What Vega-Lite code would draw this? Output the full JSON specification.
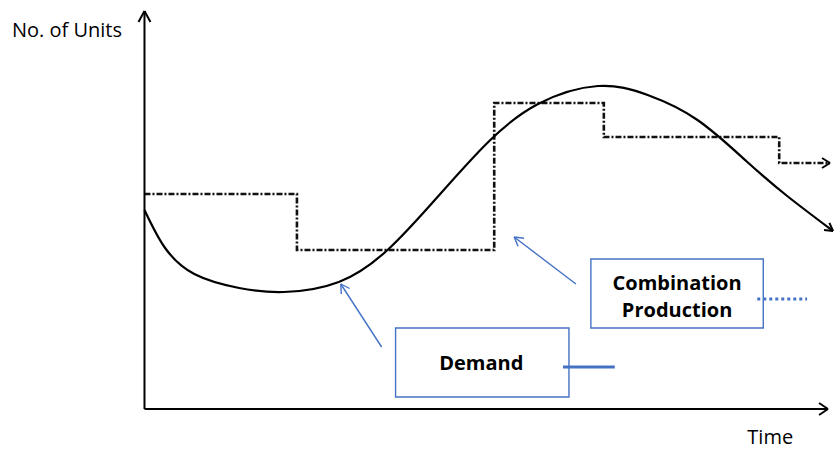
{
  "$schema": "https://vega.github.io/schema/vega-lite/v6.json",
  "width": 838,
  "height": 450,
  "autosize": {"type": "fit", "contains": "padding"},
  "padding": 0,
  "background": "white",
  "config": {"view": {"stroke": null}},
  "datasets": {
    "axes": [
      {"x": 0, "y": 0, "x2": 0, "y2": 398},
      {"x": 0, "y": 398, "x2": -6, "y2": 387},
      {"x": 0, "y": 398, "x2": 6, "y2": 387},
      {"x": 0, "y": 0, "x2": 686, "y2": 0},
      {"x": 686, "y": 0, "x2": 677, "y2": 6},
      {"x": 686, "y": 0, "x2": 677, "y2": -6},
      {"x": 691, "y": 178, "x2": 687.4, "y2": 186.2},
      {"x": 691, "y": 178, "x2": 682, "y2": 179},
      {"x": 688, "y": 246, "x2": 680, "y2": 251},
      {"x": 688, "y": 246, "x2": 680, "y2": 241}
    ],
    "pointers": [
      {"x": 238, "y": 62, "x2": 197, "y2": 125},
      {"x": 197, "y": 125, "x2": 197.5, "y2": 115},
      {"x": 197, "y": 125, "x2": 205.9, "y2": 120.5},
      {"x": 433, "y": 125, "x2": 371, "y2": 172},
      {"x": 371, "y": 172, "x2": 374.9, "y2": 162.8},
      {"x": 371, "y": 172, "x2": 380.9, "y2": 170.8}
    ],
    "demand": [
      {"t": 0, "u": 199}, {"t": 20, "u": 162}, {"t": 50, "u": 135}, {"t": 95, "u": 121},
      {"t": 140, "u": 117}, {"t": 195, "u": 127}, {"t": 245, "u": 160}, {"t": 295, "u": 213},
      {"t": 345, "u": 267}, {"t": 395, "u": 305}, {"t": 455, "u": 323}, {"t": 505, "u": 314},
      {"t": 555, "u": 289}, {"t": 605, "u": 247}, {"t": 645, "u": 213}, {"t": 691, "u": 178}
    ],
    "production": [
      {"i": 0, "t": 0, "u": 215}, {"i": 1, "t": 153, "u": 215}, {"i": 2, "t": 153, "u": 159},
      {"i": 3, "t": 351, "u": 159}, {"i": 4, "t": 351, "u": 306}, {"i": 5, "t": 461, "u": 306},
      {"i": 6, "t": 461, "u": 272}, {"i": 7, "t": 637, "u": 272}, {"i": 8, "t": 637, "u": 246},
      {"i": 9, "t": 688, "u": 246}
    ],
    "boxes": [
      {"x": 448, "x2": 621, "y": 150, "y2": 81},
      {"x": 252, "x2": 426, "y": 81, "y2": 12}
    ],
    "labels": [
      {"x": 534.5, "y": 125, "text": "Combination"},
      {"x": 534.5, "y": 98, "text": "Production"},
      {"x": 338, "y": 45, "text": "Demand"}
    ],
    "axisTitles": [
      {"x": -133, "y": 378, "text": "No. of Units"},
      {"x": 605, "y": -29, "text": "Time"}
    ]
  },
  "encoding": {},
  "layer": [
    {
      "data": {"name": "production"},
      "mark": {"type": "line", "color": "#111111", "strokeWidth": 2.6, "strokeDash": [6, 2, 2, 2], "interpolate": "linear"},
      "encoding": {
        "x": {"field": "t", "type": "quantitative", "scale": {"domain": [-145, 693], "nice": false, "zero": false}, "axis": null},
        "y": {"field": "u", "type": "quantitative", "scale": {"domain": [-41, 409], "nice": false, "zero": false}, "axis": null},
        "order": {"field": "i"}
      }
    },
    {
      "data": {"name": "demand"},
      "mark": {"type": "line", "color": "#000000", "strokeWidth": 2.2, "interpolate": "natural"},
      "encoding": {
        "x": {"field": "t", "type": "quantitative"},
        "y": {"field": "u", "type": "quantitative"}
      }
    },
    {
      "data": {"name": "axes"},
      "mark": {"type": "rule", "color": "#000000", "strokeWidth": 2},
      "encoding": {
        "x": {"field": "x", "type": "quantitative"},
        "y": {"field": "y", "type": "quantitative"},
        "x2": {"field": "x2"},
        "y2": {"field": "y2"}
      }
    },
    {
      "data": {"name": "pointers"},
      "mark": {"type": "rule", "color": "#4472C4", "strokeWidth": 1.4},
      "encoding": {
        "x": {"field": "x", "type": "quantitative"},
        "y": {"field": "y", "type": "quantitative"},
        "x2": {"field": "x2"},
        "y2": {"field": "y2"}
      }
    },
    {
      "data": {"name": "boxes"},
      "mark": {"type": "rect", "fill": "white", "stroke": "#4472C4", "strokeWidth": 1.4},
      "encoding": {
        "x": {"field": "x", "type": "quantitative"},
        "x2": {"field": "x2"},
        "y": {"field": "y", "type": "quantitative"},
        "y2": {"field": "y2"}
      }
    },
    {
      "data": {"values": [{"x": 615, "x2": 665, "y": 110}]},
      "mark": {"type": "rule", "color": "#4472C4", "strokeWidth": 3, "strokeDash": [3, 3]},
      "encoding": {
        "x": {"field": "x", "type": "quantitative"},
        "x2": {"field": "x2"},
        "y": {"field": "y", "type": "quantitative"}
      }
    },
    {
      "data": {"values": [{"x": 420, "x2": 472, "y": 42}]},
      "mark": {"type": "rule", "color": "#4472C4", "strokeWidth": 3},
      "encoding": {
        "x": {"field": "x", "type": "quantitative"},
        "x2": {"field": "x2"},
        "y": {"field": "y", "type": "quantitative"}
      }
    },
    {
      "data": {"name": "labels"},
      "mark": {"type": "text", "font": "Open Sans", "fontWeight": "bold", "fontSize": 20, "color": "#000000", "align": "center", "baseline": "middle"},
      "encoding": {
        "x": {"field": "x", "type": "quantitative"},
        "y": {"field": "y", "type": "quantitative"},
        "text": {"field": "text"}
      }
    },
    {
      "data": {"name": "axisTitles"},
      "mark": {"type": "text", "font": "Open Sans", "fontSize": 20, "color": "#000000", "align": "left", "baseline": "middle"},
      "encoding": {
        "x": {"field": "x", "type": "quantitative"},
        "y": {"field": "y", "type": "quantitative"},
        "text": {"field": "text"}
      }
    }
  ]
}
